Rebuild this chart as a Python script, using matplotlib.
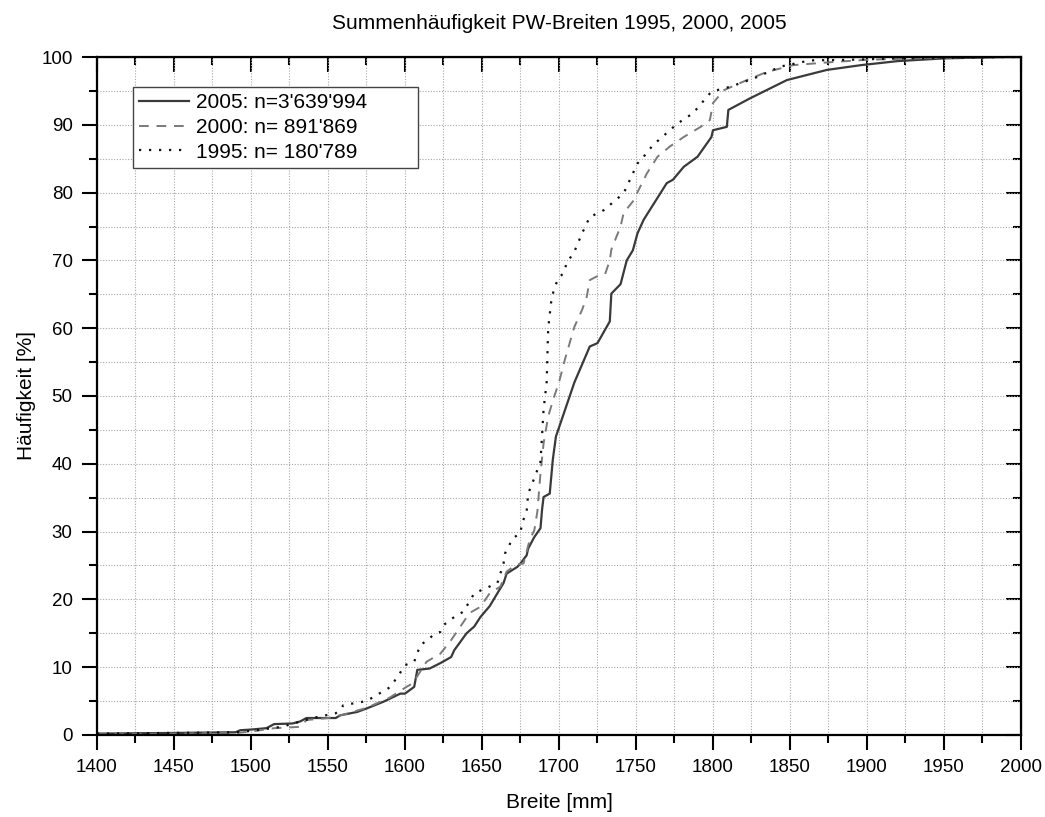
import matplotlib
matplotlib.use("Agg")
import matplotlib.pyplot as plt
from matplotlib.ticker import MultipleLocator, NullFormatter

plt.rcParams['font.family'] = ['Liberation Sans', 'DejaVu Sans']

# 2005 (solid)
x2005 = [1400, 1450, 1490, 1493, 1500, 1510, 1515, 1527, 1532, 1536, 1555, 1558, 1569, 1575,
         1586, 1597, 1600, 1606, 1608, 1616, 1623, 1630, 1632, 1640, 1645, 1649, 1655, 1660,
         1664, 1666, 1673, 1675, 1679, 1680, 1684, 1688, 1689, 1690, 1694, 1696, 1698, 1701,
         1710, 1720, 1725, 1733, 1734, 1740, 1744, 1748, 1751, 1755, 1770, 1774, 1781, 1790,
         1799, 1800, 1809, 1810, 1824, 1848, 1874, 1896, 1920, 1950, 1990, 2000]
y2005 = [0.2, 0.3, 0.4, 0.7, 0.8, 1.0, 1.6, 1.7, 2.0, 2.5, 2.5, 2.9, 3.4, 3.9,
         4.9, 6.1, 6.1, 7.1, 9.6, 9.8, 10.6, 11.5, 12.5, 15.0, 16.0, 17.4, 19.0, 20.9,
         22.4, 23.8, 24.8, 25.3, 26.5, 27.5, 29.2, 30.5, 33.2, 35.1, 35.6, 40.6, 44.0, 46.0,
         52.0, 57.3, 57.8, 61.0, 65.1, 66.5, 70.0, 71.5, 74.0, 76.0, 81.4, 81.9, 83.8, 85.3,
         88.2, 89.2, 89.7, 92.2, 93.9, 96.6, 98.1, 98.8, 99.4, 99.8, 100.0, 100.0]

# 2000 (dashed)
x2000 = [1400, 1450, 1490, 1500, 1515, 1532, 1536, 1550, 1560, 1575, 1590, 1601, 1605, 1614,
         1623, 1630, 1636, 1642, 1649, 1655, 1662, 1666, 1672, 1677, 1681, 1684, 1686, 1688,
         1690, 1693, 1697, 1700, 1704, 1710, 1715, 1718, 1720, 1726, 1730, 1733, 1734, 1740,
         1742, 1748, 1757, 1764, 1772, 1781, 1792, 1798, 1800, 1807, 1822, 1835, 1852, 1874,
         1900, 1950, 1990, 2000]
y2000 = [0.1, 0.2, 0.3, 0.5, 1.0, 1.2, 2.2, 2.5, 3.0, 4.0, 5.5, 7.1, 7.6, 10.8,
         12.0, 14.0, 16.0, 18.0, 18.9, 20.9, 21.9, 24.1, 25.1, 25.3, 28.8, 30.2, 33.0, 38.6,
         43.0, 47.0, 50.0, 52.0, 55.5, 60.2, 62.7, 64.6, 67.1, 67.8, 68.0, 70.0, 71.6, 75.0,
         77.0, 78.7, 82.8, 85.3, 86.8, 88.2, 89.7, 90.7, 93.2, 95.1, 96.6, 97.8, 98.8, 99.2,
         99.6, 99.9, 100.0, 100.0]

# 1995 (dotted)
x1995 = [1400, 1450, 1490, 1500, 1520, 1540, 1555, 1558, 1560, 1575, 1590, 1595, 1600, 1606,
         1610, 1615, 1618, 1623, 1625, 1632, 1638, 1645, 1650, 1655, 1660, 1664, 1665, 1670,
         1675, 1676, 1679, 1680, 1684, 1688, 1690, 1692, 1693, 1695, 1697, 1700, 1703, 1705,
         1710, 1715, 1720, 1729, 1742, 1751, 1755, 1761, 1777, 1787, 1799, 1811, 1826, 1844,
         1863, 1890, 1920, 1990, 2000]
y1995 = [0.2, 0.3, 0.4, 0.6, 1.2, 2.5, 3.2, 3.7, 4.4, 5.0, 7.0, 8.5, 10.3, 10.8,
         13.3, 14.0, 14.7, 15.2, 16.2, 17.4, 18.2, 20.9, 21.4, 21.9, 22.4, 25.3, 26.8, 29.0,
         29.8, 31.2, 33.0, 35.6, 37.9, 40.3, 48.0, 52.0, 60.0, 64.0, 66.0, 67.5, 68.1, 69.6,
         71.3, 74.0, 76.4, 77.4, 79.9, 84.3, 85.3, 87.0, 90.2, 91.7, 94.9, 95.6, 96.8, 98.6,
         99.5, 99.6, 99.8, 100.0, 100.0]

fig = plt.figure(figsize=(10.45, 8.17), dpi=100)
ax = fig.add_axes([0.0928, 0.1004, 0.8842, 0.8298])

ax.plot(x2005, y2005, color='#3a3a3a', lw=1.6, ls='-', label="2005: n=3'639'994")
ax.plot(x2000, y2000, color='#7a7a7a', lw=1.4, ls=(0, (5, 4)), label="2000: n= 891'869")
ax.plot(x1995, y1995, color='#111111', lw=1.6, ls=(0, (1, 3.5)), label="1995: n= 180'789")

ax.set_xlim(1400, 2000)
ax.set_ylim(0, 100)
ax.xaxis.set_major_locator(MultipleLocator(50))
ax.xaxis.set_minor_locator(MultipleLocator(25))
ax.yaxis.set_major_locator(MultipleLocator(10))
ax.yaxis.set_minor_locator(MultipleLocator(5))
ax.grid(True, which='both', color='#a8a8a8', ls=(0, (1, 1.5)), lw=0.8)
ax.tick_params(which='both', direction='out', width=1.5, labelsize=13.5, pad=7)
ax.tick_params(which='major', length=10.5)
ax.tick_params(which='minor', length=6)
for s in ax.spines.values():
    s.set_linewidth(1.6)

# mirrored ticks pointing inward on top and right
top = ax.secondary_xaxis('top')
top.xaxis.set_major_locator(MultipleLocator(50))
top.xaxis.set_minor_locator(MultipleLocator(25))
top.xaxis.set_major_formatter(NullFormatter())
top.tick_params(which='both', direction='in', width=1.5)
top.tick_params(which='major', length=10.5)
top.tick_params(which='minor', length=6)
right = ax.secondary_yaxis('right')
right.yaxis.set_major_locator(MultipleLocator(10))
right.yaxis.set_minor_locator(MultipleLocator(5))
right.yaxis.set_major_formatter(NullFormatter())
right.tick_params(which='both', direction='in', width=1.5)
right.tick_params(which='major', length=10.5)
right.tick_params(which='minor', length=6)

ax.set_xlabel('Breite [mm]', fontsize=15, labelpad=12)
ax.set_ylabel('Häufigkeit [%]', fontsize=15, labelpad=4)
ax.set_title('Summenhäufigkeit PW-Breiten 1995, 2000, 2005', fontsize=15, pad=20)

leg = ax.legend(loc='upper left', bbox_to_anchor=(0.039, 0.844, 0.308, 0.112), mode='expand',
                fontsize=15, frameon=True, fancybox=False, edgecolor='#444444', framealpha=1,
                handlelength=2.4, borderpad=0.3, labelspacing=0.28, handletextpad=0.3,
                borderaxespad=0)
leg.get_frame().set_linewidth(1.0)

fig.savefig('out.png', dpi=100)
